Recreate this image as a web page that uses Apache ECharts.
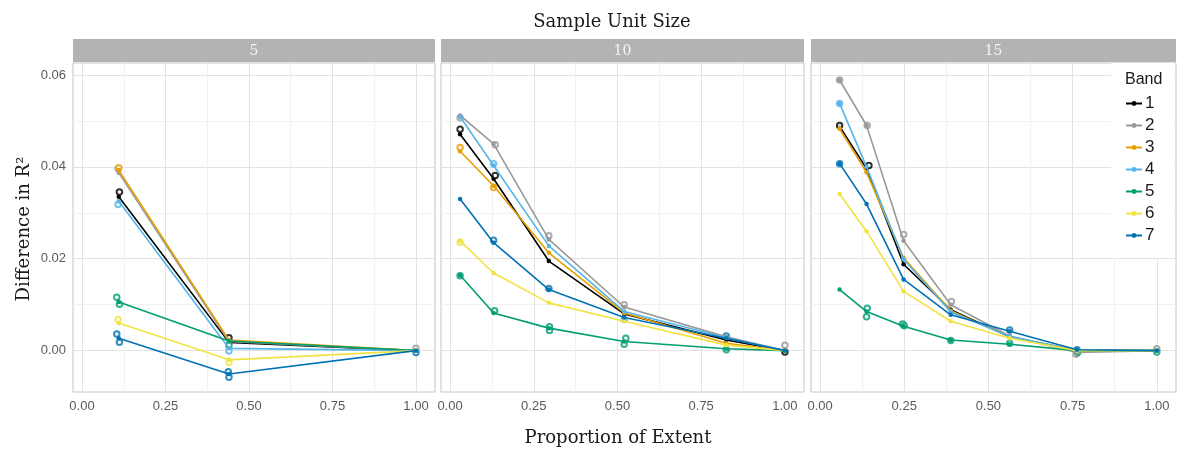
<!DOCTYPE html>
<html>
<head>
<meta charset="utf-8">
<script src="https://cdn.jsdelivr.net/npm/echarts@6/dist/echarts.min.js"></script>
<style>
  html, body { margin: 0; padding: 0; background: #fff; }
  #chart { width: 1177px; height: 453px; }
</style>
</head>
<body>
<div id="chart"></div>
<script>
// Facet labels (sample unit size) and band names
const facets = ['5', '10', '15'];
const bands = ['1', '2', '3', '4', '5', '6', '7'];
const bandColors = ['#000000', '#999999', '#E69F00', '#56B4E9', '#009E73', '#F0E442', '#0072B2'];

// Axis tick values
const xMajorTicks = [0, 0.25, 0.5, 0.75, 1.0];
const xGridTicks = [0, 0.125, 0.25, 0.375, 0.5, 0.625, 0.75, 0.875, 1.0];
const yMajorTicks = [0, 0.02, 0.04, 0.06];
const yGridTicks = [0, 0.01, 0.02, 0.03, 0.04, 0.05, 0.06];

// Proportion of extent sampled in each facet
const extent5 = [0.11, 0.44, 1.0];
const extent10 = [0.03, 0.13, 0.295, 0.52, 0.825, 1.0];
const extent15 = [0.058, 0.138, 0.248, 0.388, 0.563, 0.763, 1.0];

// Mean difference in R² by band, sample unit size 5
const size5Band1 = [0.0335, 0.0018, 0];
const size5Band2 = [0.0387, 0.0020, 0];
const size5Band3 = [0.0393, 0.0023, 0];
const size5Band4 = [0.0325, 0.0005, 0];
const size5Band5 = [0.0106, 0.0021, 0];
const size5Band6 = [0.0060, -0.0020, 0];
const size5Band7 = [0.0027, -0.0051, 0];

// Mean difference in R² by band, sample unit size 10
const size10Band1 = [0.0471, 0.0374, 0.0195, 0.0080, 0.0023, 0];
const size10Band2 = [0.0512, 0.0450, 0.0242, 0.0095, 0.0030, 0];
const size10Band3 = [0.0434, 0.0359, 0.0213, 0.0082, 0.0016, 0];
const size10Band4 = [0.0509, 0.0403, 0.0228, 0.0085, 0.0028, 0];
const size10Band5 = [0.0164, 0.0082, 0.0049, 0.0020, 0.0004, 0];
const size10Band6 = [0.0239, 0.0169, 0.0104, 0.0064, 0.0012, 0];
const size10Band7 = [0.0330, 0.0235, 0.0133, 0.0072, 0.0027, 0];

// Mean difference in R² by band, sample unit size 15
const size15Band1 = [0.0488, 0.0396, 0.0188, 0.0089, 0.0030, 0.0000, 0];
const size15Band2 = [0.0589, 0.0490, 0.0239, 0.0100, 0.0032, -0.0004, 0];
const size15Band3 = [0.0483, 0.0388, 0.0202, 0.0087, 0.0030, 0.0000, 0];
const size15Band4 = [0.0538, 0.0400, 0.0199, 0.0084, 0.0031, 0.0000, 0];
const size15Band5 = [0.0133, 0.0085, 0.0053, 0.0023, 0.0014, 0.0000, 0];
const size15Band6 = [0.0341, 0.0260, 0.0129, 0.0064, 0.0027, 0.0000, 0];
const size15Band7 = [0.0407, 0.0319, 0.0155, 0.0078, 0.0042, 0.0002, 0];

// Individual replicate results: [proportion of extent, difference in R², band]
const size5Replicates = [
  [0.112, 0.0345, 1], [0.108, 0.0396, 2], [0.110, 0.0398, 3], [0.108, 0.0318, 4],
  [0.104, 0.0116, 5], [0.112, 0.0101, 5], [0.108, 0.0068, 6], [0.104, 0.0036, 7], [0.112, 0.0018, 7],
  [0.440, 0.0028, 1], [0.440, 0.0012, 5], [0.440, -0.0001, 4], [0.440, -0.0026, 6],
  [0.438, -0.0046, 7], [0.440, -0.0058, 7], [1.0, 0.0005, 2], [1.0, -0.0004, 7]
];
const size10Replicates = [
  [0.030, 0.0482, 1], [0.030, 0.0507, 2], [0.030, 0.0442, 3], [0.030, 0.0236, 6], [0.030, 0.0163, 5],
  [0.135, 0.0448, 2], [0.130, 0.0407, 4], [0.135, 0.0381, 1], [0.130, 0.0355, 3], [0.130, 0.0240, 7],
  [0.133, 0.0087, 5], [0.295, 0.0250, 2], [0.295, 0.0135, 7], [0.297, 0.0052, 5], [0.297, 0.0044, 5],
  [0.520, 0.0100, 2], [0.525, 0.0027, 5], [0.520, 0.0014, 5], [0.520, 0.0068, 4],
  [0.825, 0.0032, 7], [0.825, 0.0002, 5], [1.0, 0.0012, 2], [1.0, -0.0003, 1]
];
const size15Replicates = [
  [0.058, 0.0589, 2], [0.058, 0.0538, 4], [0.058, 0.0490, 1], [0.058, 0.0407, 7],
  [0.140, 0.0490, 2], [0.145, 0.0403, 1], [0.140, 0.0092, 5], [0.138, 0.0074, 5],
  [0.248, 0.0253, 2], [0.245, 0.0058, 5], [0.250, 0.0054, 5], [0.390, 0.0107, 2], [0.388, 0.0022, 5],
  [0.563, 0.0045, 7], [0.563, 0.0016, 5], [0.760, -0.0008, 2], [0.763, 0.0002, 7], [0.765, -0.0004, 5],
  [1.0, 0.0004, 2], [1.0, -0.0003, 5]
];

const panelX = [extent5, extent10, extent15];
const panelY = [
  [size5Band1, size5Band2, size5Band3, size5Band4, size5Band5, size5Band6, size5Band7],
  [size10Band1, size10Band2, size10Band3, size10Band4, size10Band5, size10Band6, size10Band7],
  [size15Band1, size15Band2, size15Band3, size15Band4, size15Band5, size15Band6, size15Band7]
];
const panelReplicates = [size5Replicates, size10Replicates, size15Replicates];

// Panel geometry
const panels = [
  { left: 73, width: 362 },
  { left: 441, width: 363 },
  { left: 811, width: 365 }
];
const plotTop = 63, plotHeight = 329;
const stripTop = 39, stripHeight = 23;

const tickFont = '"Liberation Sans", Arial, sans-serif';
const serifFont = '"DejaVu Serif", serif';
const majorGrid = '#E2E2E2', minorGrid = '#F1F1F1';

const chart = echarts.init(document.getElementById('chart'), null, { renderer: 'canvas' });

const grids = panels.map(p => ({
  left: p.left, top: plotTop, width: p.width, height: plotHeight,
  show: true, borderColor: '#C4C4C4', borderWidth: 1, backgroundColor: '#fff', containLabel: false
}));

const xAxes = panels.map((p, i) => ({
  type: 'value', gridIndex: i, min: -0.027, max: 1.057,
  axisLine: { show: false },
  axisTick: { show: false, customValues: xGridTicks },
  axisLabel: {
    color: '#5A5A5A', fontFamily: tickFont, fontSize: 13, margin: 8,
    customValues: xMajorTicks,
    formatter: v => v.toFixed(2)
  },
  splitLine: { show: true, lineStyle: { color: [majorGrid, minorGrid], width: 1 } }
}));

const yAxes = panels.map((p, i) => ({
  type: 'value', gridIndex: i, min: -0.009, max: 0.0626,
  axisLine: { show: false },
  axisTick: { show: false, customValues: yGridTicks },
  axisLabel: {
    show: i === 0, color: '#5A5A5A', fontFamily: tickFont, fontSize: 13, margin: 7,
    customValues: yMajorTicks,
    formatter: v => v.toFixed(2)
  },
  splitLine: { show: true, lineStyle: { color: [majorGrid, minorGrid], width: 1 } }
}));

const series = [];
panelY.forEach((bandSets, pi) => {
  bandSets.forEach((vals, bi) => {
    series.push({
      type: 'line', name: bands[bi], xAxisIndex: pi, yAxisIndex: pi,
      data: vals.map((v, k) => [panelX[pi][k], v]),
      symbol: 'circle', symbolSize: 4.5, showSymbol: true,
      color: bandColors[bi],
      lineStyle: { width: 1.6, color: bandColors[bi] },
      itemStyle: { color: bandColors[bi] },
      emphasis: { disabled: true },
      animation: false, z: 2 + bi * 0.01
    });
  });
});
// Replicates drawn as thin open circles, one scatter layer per band
panelReplicates.forEach((reps, pi) => {
  bands.forEach((b, bi) => {
    series.push({
      type: 'scatter', name: 'replicates ' + facets[pi] + '-' + b, xAxisIndex: pi, yAxisIndex: pi,
      data: reps.filter(r => r[2] === bi + 1).map(r => [r[0], r[1]]),
      symbol: 'emptyCircle', symbolSize: 5.5,
      itemStyle: { color: bandColors[bi], borderColor: bandColors[bi], borderWidth: 0.7, opacity: 0.8 },
      emphasis: { disabled: true }, silent: true,
      animation: false, z: 2
    });
  });
});

const graphics = [];
panels.forEach((p, i) => {
  graphics.push({
    type: 'rect', shape: { x: p.left, y: stripTop, width: p.width, height: stripHeight },
    style: { fill: '#B3B3B3' }, z: 10
  });
  graphics.push({
    type: 'text', x: p.left + p.width / 2, y: stripTop + stripHeight / 2 + 1,
    style: { text: facets[i], fill: '#F5F5F5', font: '14px ' + serifFont, textAlign: 'center', textVerticalAlign: 'middle' },
    z: 11
  });
});
graphics.push({
  type: 'text', x: 612, y: 22,
  style: { text: 'Sample Unit Size', fill: '#1A1A1A', font: '18px ' + serifFont, textAlign: 'center', textVerticalAlign: 'middle' },
  z: 11
});
graphics.push({
  type: 'text', x: 618, y: 438,
  style: { text: 'Proportion of Extent', fill: '#1A1A1A', font: '18px ' + serifFont, textAlign: 'center', textVerticalAlign: 'middle' },
  z: 11
});
graphics.push({
  type: 'text', x: 24, y: 229, rotation: Math.PI / 2,
  style: { text: 'Difference in R²', fill: '#1A1A1A', font: '18px ' + serifFont, textAlign: 'center', textVerticalAlign: 'middle' },
  z: 11
});
graphics.push({
  type: 'text', x: 1125, y: 80,
  style: { text: 'Band', fill: '#1A1A1A', font: '16px "Liberation Sans", Arial, sans-serif', textAlign: 'left', textVerticalAlign: 'middle' },
  z: 20
});

chart.setOption({
  animation: false,
  backgroundColor: '#ffffff',
  grid: grids,
  xAxis: xAxes,
  yAxis: yAxes,
  series: series,
  legend: {
    data: bands,
    orient: 'vertical', left: 1111, top: 63,
    padding: [32, 20, 14, 14],
    itemWidth: 16, itemHeight: 6, itemGap: 5,
    backgroundColor: '#ffffff',
    textStyle: { fontSize: 17, lineHeight: 17, color: '#1A1A1A', fontFamily: '"Liberation Sans", Arial, sans-serif', padding: [0, 0, 0, -2] },
    selectedMode: false, z: 15
  },
  graphic: graphics
});
</script>
</body>
</html>
